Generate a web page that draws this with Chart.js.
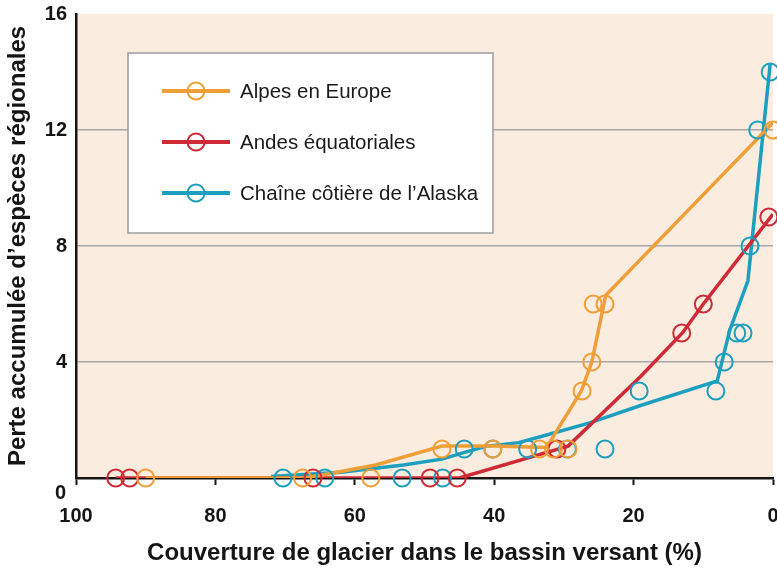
<!DOCTYPE html>
<html lang="fr">
<head>
  <meta charset="UTF-8" />
  <title>Perte d’espèces et couverture glaciaire</title>
  <style>
    body {
      margin: 0;
      background-color: #fff;
    }

    #chart {
      display: block;
    }
  </style>
</head>
<body>
  <canvas id="chart" width="777" height="568"></canvas>

  <script src="https://cdn.jsdelivr.net/npm/chart.js"></script>
  <script>
    const seriesNames = ['Alpes en Europe', 'Andes équatoriales', 'Chaîne côtière de l’Alaska'];

    // observed points: glacier cover (%) / species lost
    const alpesX = [90, 67.5, 57.7, 47.5, 40.2, 33.5, 31.5, 29.4, 27.4, 26, 25.8, 24.1, 0];
    const alpesY = [0, 0, 0, 1, 1, 1, 1, 1, 3, 4, 6, 6, 12];
    const andesX = [94.3, 92.3, 66, 49.2, 45.3, 31, 13.1, 10, 0.6];
    const andesY = [0, 0, 0, 0, 0, 1, 5, 6, 9];
    const alaskaX = [70.3, 64.3, 53.2, 47.4, 44.3, 40.2, 35.2, 29.5, 24.1, 19.2, 8.2, 7, 5.2, 4.3, 3.3, 2.2, 0.4];
    const alaskaY = [0, 0, 0, 0, 1, 1, 1, 1, 1, 3, 3, 4, 5, 5, 8, 12, 14];

    // fitted curves
    const alpesFitX = [90, 67, 57, 47.5, 40, 32.5, 27.5, 26, 24, 0];
    const alpesFitY = [0, 0, 0.45, 1.1, 1.1, 1.05, 3, 4, 6.3, 12.25];
    const andesFitX = [94.3, 45, 29.4, 19, 13, 10, 0];
    const andesFitY = [0, 0, 1.1, 3.5, 5, 6, 9.1];
    const alaskaFitX = [72, 62, 53, 47.5, 44, 41, 36.5, 33, 26.3, 19, 8, 6.2, 3.6, 0.4];
    const alaskaFitY = [0.05, 0.2, 0.45, 0.65, 0.9, 1.1, 1.22, 1.45, 1.9, 2.5, 3.35, 5.1, 6.8, 14.3];

    const xTicks = [100, 80, 60, 40, 20, 0];
    const yTicks = [0, 4, 8, 12, 16];
    const yGridLines = [4, 8, 12];

    const colors = ['#f09e36', '#cf2a36', '#1d9fbf'];
    const ink = '#151515';
    const fontFamily = '"Liberation Sans", Arial, Helvetica, sans-serif';

    function pts(xs, ys) {
      return xs.map((x, i) => ({ x: x, y: ys[i] }));
    }

    const observed = [pts(alpesX, alpesY), pts(andesX, andesY), pts(alaskaX, alaskaY)];
    const fitted = [pts(alpesFitX, alpesFitY), pts(andesFitX, andesFitY), pts(alaskaFitX, alaskaFitY)];

    const datasets = [];
    observed.forEach((data, i) => {
      datasets.push({
        label: seriesNames[i],
        data: data,
        showLine: false,
        pointRadius: 8.5,
        pointBorderWidth: 2,
        pointBorderColor: colors[i],
        pointBackgroundColor: 'rgba(0,0,0,0)',
        clip: false
      });
    });
    fitted.forEach((data, i) => {
      datasets.push({
        label: seriesNames[i] + ' (ajustement)',
        data: data,
        showLine: true,
        pointRadius: 0,
        borderColor: colors[i],
        borderWidth: 3.5,
        tension: 0
      });
    });

    // beige plot background
    const plotBackground = {
      id: 'plotBackground',
      beforeDraw(chart) {
        const { ctx, chartArea: a } = chart;
        ctx.save();
        ctx.fillStyle = '#fbece0';
        ctx.fillRect(a.left, a.top, a.right - a.left, a.bottom - a.top);
        ctx.restore();
      }
    };

    // boxed legend inside the plot + the lowered "0" label of the y axis
    const legendBox = {
      id: 'legendBox',
      afterDatasetsDraw(chart) {
        const { ctx, chartArea: a } = chart;
        const x0 = a.left + 52, y0 = a.top + 39, w = 365, h = 180;
        ctx.save();
        ctx.fillStyle = '#fff';
        ctx.fillRect(x0, y0, w, h);
        ctx.strokeStyle = '#9c9c9c';
        ctx.lineWidth = 1.5;
        ctx.strokeRect(x0, y0, w, h);
        seriesNames.forEach((name, i) => {
          const cy = y0 + 38 + i * 51;
          ctx.strokeStyle = colors[i];
          ctx.lineWidth = 4;
          ctx.beginPath();
          ctx.moveTo(x0 + 34, cy);
          ctx.lineTo(x0 + 102, cy);
          ctx.stroke();
          ctx.lineWidth = 2;
          ctx.beginPath();
          ctx.arc(x0 + 68, cy, 8.5, 0, Math.PI * 2);
          ctx.stroke();
          ctx.fillStyle = '#1a1a1a';
          ctx.font = '20.5px ' + fontFamily;
          ctx.textAlign = 'left';
          ctx.textBaseline = 'middle';
          ctx.fillText(name, x0 + 112, cy + 1);
        });

        const yScale = chart.scales.y;
        ctx.fillStyle = ink;
        ctx.font = 'bold 20px ' + fontFamily;
        ctx.textAlign = 'right';
        ctx.textBaseline = 'middle';
        ctx.fillText('0', yScale.right - 10, yScale.getPixelForValue(0) + 15);
        ctx.restore();
      }
    };

    new Chart(document.getElementById('chart'), {
      type: 'scatter',
      data: { datasets: datasets },
      plugins: [plotBackground, legendBox],
      options: {
        responsive: false,
        animation: false,
        layout: { autoPadding: false, padding: { top: 14, right: 4, bottom: 0, left: 0 } },
        plugins: {
          legend: { display: false },
          tooltip: { enabled: false }
        },
        scales: {
          x: {
            type: 'linear',
            reverse: true,
            min: 0,
            max: 100,
            afterBuildTicks: s => { s.ticks = xTicks.map(v => ({ value: v })); },
            afterFit: s => { s.height = 90; s.paddingLeft = 0; s.paddingRight = 0; },
            ticks: {
              color: ink,
              font: { family: fontFamily, size: 20, weight: 'bold' },
              padding: 19,
              maxRotation: 0,
              autoSkip: false
            },
            grid: {
              drawOnChartArea: false,
              drawTicks: true,
              tickLength: 7,
              tickWidth: 2,
              tickColor: ink
            },
            border: { color: ink, width: 2.5 },
            title: {
              display: true,
              text: 'Couverture de glacier dans le bassin versant (%)',
              color: ink,
              font: { family: fontFamily, size: 24, weight: 'bold' },
              padding: { top: 0, bottom: 0 }
            }
          },
          y: {
            min: 0,
            max: 16,
            afterBuildTicks: s => { s.ticks = yTicks.map(v => ({ value: v })); },
            afterFit: s => { s.width = 76; s.paddingTop = 0; s.paddingBottom = 0; },
            ticks: {
              color: ink,
              font: { family: fontFamily, size: 20, weight: 'bold' },
              padding: 9,
              callback: v => (v === 0 ? '' : v)
            },
            grid: {
              drawTicks: false,
              lineWidth: 1.5,
              color: c => (c.tick && yGridLines.includes(c.tick.value) ? '#a8a8a8' : 'rgba(0,0,0,0)')
            },
            border: { color: ink, width: 2.5 },
            title: {
              display: true,
              text: 'Perte accumulée d’espèces régionales',
              color: ink,
              font: { family: fontFamily, size: 24, weight: 'bold' },
              padding: { top: 4, bottom: 0 }
            }
          }
        }
      }
    });
  </script>
</body>
</html>
